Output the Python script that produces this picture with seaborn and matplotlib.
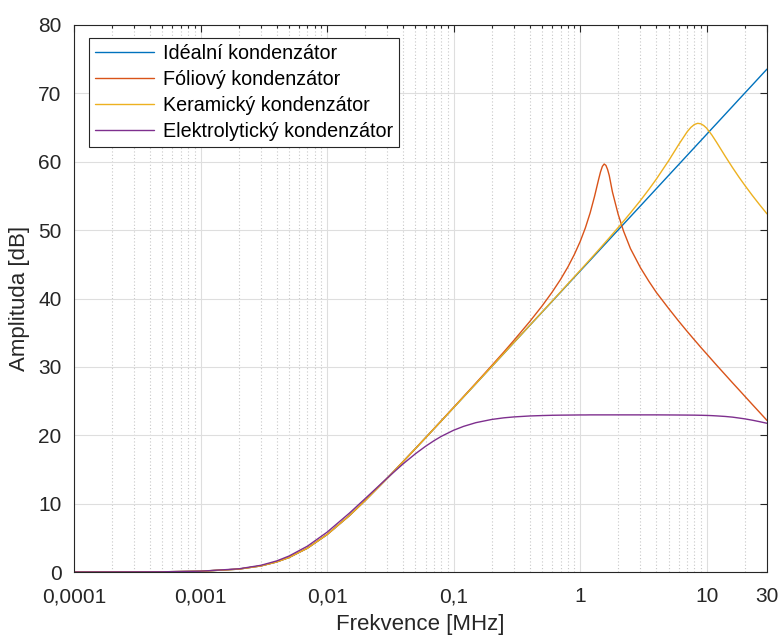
import numpy as np
import pandas as pd
import matplotlib
matplotlib.use("Agg")
import matplotlib.pyplot as plt
import seaborn as sns
from matplotlib.ticker import LogLocator, NullFormatter, FixedLocator

# ---- data (frequency in MHz, amplitude in dB) ----
freq = [1e-4, 2e-4, 5e-4, 1e-3, 2e-3, 3e-3, 4e-3, 5e-3, 7e-3, 0.01, 0.015, 0.02,
        0.03, 0.04, 0.05, 0.06, 0.07, 0.08, 0.1, 0.12, 0.15, 0.2, 0.25, 0.3, 0.4,
        0.5, 0.6, 0.7, 0.8, 0.9,
        1.0, 1.1, 1.2, 1.3, 1.4, 1.45, 1.5, 1.55, 1.6, 1.65, 1.7, 1.8, 1.9, 2.0,
        2.2, 2.5, 3, 3.5, 4, 5, 6, 7, 7.5, 8, 8.5, 9, 9.5, 10, 11, 12, 14, 16, 18,
        20, 23, 26, 30]

ideal = [0.00, 0.00, 0.03, 0.11, 0.42, 0.89, 1.47, 2.12, 3.49, 5.47, 8.24, 10.45,
         13.74, 16.16, 18.06, 19.62, 20.95, 22.10, 24.03, 25.61, 27.54, 30.04, 31.97,
         33.56, 36.06, 37.99, 39.57,
         40.91, 42.07, 43.10, 44.01, 44.84, 45.59, 46.29, 46.93, 47.24, 47.53, 47.82,
         48.09, 48.36, 48.62, 49.12, 49.59, 50.03, 50.86, 51.97, 53.55, 54.89, 56.05,
         57.99, 59.57, 60.91, 61.51, 62.07, 62.60, 63.09, 63.56, 64.01, 64.84, 65.59,
         66.93, 68.09, 69.12, 70.03, 71.24, 72.31, 73.55]

foil = [0.00, 0.00, 0.03, 0.11, 0.42, 0.89, 1.47, 2.12, 3.49, 5.47, 8.24, 10.45,
        13.74, 16.16, 18.06, 19.63, 20.96, 22.12, 24.07, 25.66, 27.62, 30.18, 32.19,
        33.88, 36.63, 38.90, 40.91,
        42.78, 44.60, 46.43, 48.31, 50.32, 52.51, 54.92, 57.41, 58.52, 59.33, 59.67,
        59.47, 58.85, 57.98, 55.60, 53.90, 52.30, 49.90, 47.30, 44.50, 42.50, 40.90,
        38.56, 36.71, 35.21, 34.56, 33.95, 33.39, 32.85, 32.36, 31.90, 31.03, 30.24,
        28.87, 27.68, 26.65, 25.72, 24.49, 23.42, 22.17]

ceramic = [0.00, 0.00, 0.03, 0.11, 0.42, 0.89, 1.47, 2.12, 3.49, 5.47, 8.24, 10.45,
           13.74, 16.16, 18.06, 19.62, 20.95, 22.10, 24.03, 25.61, 27.54, 30.04, 31.98,
           33.56, 36.07, 38.01, 39.60,
           40.95, 42.13, 43.17, 44.10, 44.95, 45.72, 46.44, 47.10, 47.42, 47.73, 48.03,
           48.32, 48.60, 48.87, 49.40, 49.91, 50.38, 51.29, 52.52, 54.34, 55.97, 57.45,
           60.13, 62.48, 64.36, 65.02, 65.45, 65.62, 65.55, 65.29, 64.91, 63.91, 62.83,
           60.83, 59.16, 57.76, 56.57, 55.06, 53.80, 52.38]

electrolytic = [0.00, 0.01, 0.03, 0.12, 0.46, 0.98, 1.62, 2.33, 3.78, 5.82, 8.60, 10.73,
                13.77, 15.83, 17.30, 18.38, 19.20, 19.84, 20.73, 21.30, 21.84, 22.31, 22.55,
                22.68, 22.82, 22.88, 22.92,
                22.94, 22.95, 22.96, 22.97, 22.97, 22.98, 22.98, 22.98, 22.98, 22.98, 22.98,
                22.98, 22.98, 22.98, 22.98, 22.98, 22.98, 22.98, 22.98, 22.98, 22.98, 22.98,
                22.97, 22.96, 22.95, 22.945, 22.94, 22.93, 22.92, 22.91, 22.90, 22.87, 22.83,
                22.75, 22.65, 22.52, 22.40, 22.20, 22.00, 21.75]

series_names = ["Idéalní kondenzátor", "Fóliový kondenzátor",
                "Keramický kondenzátor", "Elektrolytický kondenzátor"]
series_colors = ["#0072BD", "#D95319", "#EDB120", "#7E2F8E"]

xtick_vals = [1e-4, 1e-3, 1e-2, 1e-1, 1, 10, 30]
xtick_labels = ["0,0001", "0,001", "0,01", "0,1", "1", "10", "30"]
ytick_vals = [0, 10, 20, 30, 40, 50, 60, 70, 80]

# ---- styling ----
sns.set_theme(style="white")
plt.rcParams["font.family"] = ["Liberation Sans", "DejaVu Sans"]
plt.rcParams["axes.edgecolor"] = "#262626"

fig = plt.figure(figsize=(7.82, 6.35), dpi=100)
ax = fig.add_axes([74 / 782, 1 - 572 / 635, 693 / 782, 547 / 635])

for name, vals, col in zip(series_names, [ideal, foil, ceramic, electrolytic], series_colors):
    df = pd.DataFrame({"freq": freq, "amp": vals})
    sns.lineplot(data=df, x="freq", y="amp", color=col, linewidth=1.0,
                 label=name, ax=ax, estimator=None, sort=False)

ax.set_xscale("log")
ax.set_xlim(1e-4, 30)
ax.set_ylim(0, 80)

ax.xaxis.set_major_locator(FixedLocator(xtick_vals))
ax.set_xticklabels(xtick_labels)
ax.xaxis.set_minor_locator(LogLocator(base=10, subs=np.arange(2, 10), numticks=30))
ax.xaxis.set_minor_formatter(NullFormatter())
ax.set_yticks(ytick_vals)
ax.set_yticklabels([str(v) for v in ytick_vals])

ax.set_axisbelow(True)
ax.grid(which="major", axis="both", color="#DEDEDE", linewidth=0.8, linestyle="-")
ax.grid(which="minor", axis="x", color="#C8C8C8", linewidth=0.8, linestyle=(0, (1, 2)))

ax.tick_params(which="both", direction="in", top=True, right=True, colors="#262626",
               labelcolor="#262626", width=0.8)
ax.tick_params(which="major", length=5, labelsize=15, pad=9)
ax.tick_params(axis="x", which="major", pad=11)
ax.tick_params(which="minor", length=2.5)
for s in ax.spines.values():
    s.set_linewidth(0.8)
    s.set_color("#262626")

ax.set_xlabel("Frekvence [MHz]", fontsize=16, color="#262626", labelpad=5.5)
ax.set_ylabel("Amplituda [dB]", fontsize=16, color="#262626", labelpad=6)

leg = ax.legend(loc="upper left", bbox_to_anchor=(15 / 693, 1 - 13 / 547),
                borderaxespad=0, fontsize=14.2, frameon=True, fancybox=False,
                edgecolor="#262626", framealpha=1, handlelength=3.0,
                handletextpad=0.45, labelspacing=0.36, borderpad=0.3)
leg.get_frame().set_linewidth(0.8)
for t in leg.get_texts():
    t.set_color("black")

fig.savefig("out.png", dpi=100)
